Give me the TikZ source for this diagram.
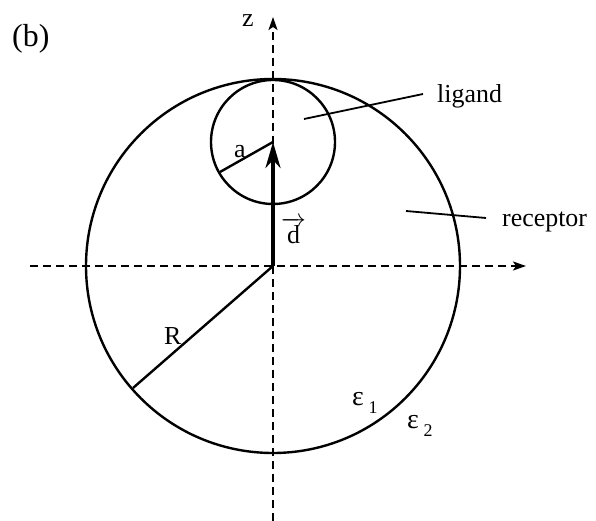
\documentclass[tikz,border=0pt]{standalone}
\usepackage{fontspec}
\setmainfont{Liberation Serif}
\usetikzlibrary{arrows.meta}
\begin{document}
\begin{tikzpicture}[x=1bp,y=-1bp,
  lbl/.style={anchor=base west,inner sep=0pt,font=\fontsize{26}{30}\selectfont},
  curve/.style={line width=2.4bp},
  axis/.style={line width=2bp,dash pattern=on 8bp off 5bp,
    -{Stealth[length=13bp,width=9bp,inset=3bp]}},
  leader/.style={line width=1.8bp},
  vecarrow/.style={line width=3.8bp,-{Stealth[length=26bp,width=15bp,inset=8bp]}}]
\useasboundingbox (0,0) rectangle (596,521);
% key points
\coordinate (O) at (273,266);
\coordinate (L) at (273,142);
\coordinate (aend) at (220,172);
\coordinate (Rend) at (133,388);
\coordinate (zbot) at (273,521);
\coordinate (ztop) at (273,17);
\coordinate (xleft) at (30,266);
\coordinate (xright) at (526,266);
\coordinate (lg1) at (304,119);
\coordinate (lg2) at (423,94);
\coordinate (rc1) at (406,211);
\coordinate (rc2) at (486,218);
% circles
\draw[curve] (O) circle[radius=187];
\draw[curve] (L) circle[radius=62];
% axes
\draw[axis] (zbot) -- (ztop);
\draw[axis] (xleft) -- (xright);
% radii
\draw[curve] (L) -- (aend);
\draw[curve] (O) -- (Rend);
% vector d
\draw[vecarrow] (O) -- (L);
% leaders
\draw[leader] (lg1) -- (lg2);
\draw[leader] (rc1) -- (rc2);
% labels
\node[lbl,font=\fontsize{32}{36}\selectfont] (b) at (12,47) {(b)};
\node[lbl] (z) at (242,27) {z};
\node[lbl] (a) at (234,158) {a};
\node[lbl] (R) at (164,344) {R};
\node[lbl] (d) at (281,243) {$\overrightarrow{\mbox{d}}$};
\node[lbl] (ligand) at (437,103) {ligand};
\node[lbl] (receptor) at (502,227) {receptor};
\node[lbl,font=\fontsize{28}{30}\selectfont] (e1) at (352,405) {ε\,\raisebox{-0.3em}{\fontsize{18}{20}\selectfont 1}};
\node[lbl,font=\fontsize{28}{30}\selectfont] (e2) at (407,428) {ε\,\raisebox{-0.3em}{\fontsize{18}{20}\selectfont 2}};
\end{tikzpicture}
\end{document}
